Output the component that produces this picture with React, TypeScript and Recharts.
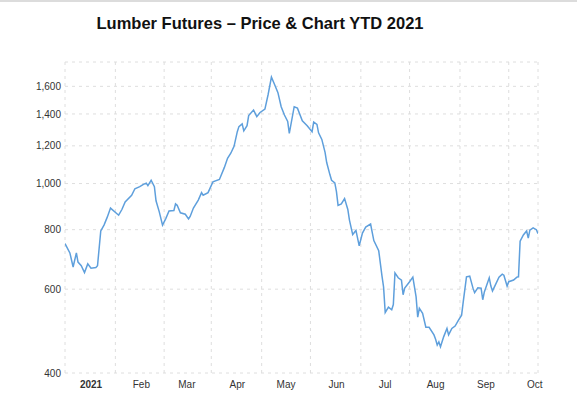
import React from 'react';
import { LineChart, Line, XAxis, YAxis, CartesianGrid } from 'recharts';

// day 0 = Jan 1 2021
const days = [
  -16, -13, -11, -9, -8, -6, -4, -2, 0, 3,
  4, 6, 8, 10, 12, 17, 19, 21, 25, 27,
  30, 32, 34, 35, 37, 39, 40, 42, 44, 46,
  48, 51, 52, 53, 55, 58, 60, 61, 63, 66,
  68, 69, 72, 75, 79, 82, 84, 86, 88, 90,
  91, 93, 94, 96, 97, 100, 102, 104, 107, 109,
  111, 113, 115, 117, 119, 121, 122, 125, 127, 130,
  133, 136, 137, 139, 140, 142, 144, 145, 147, 148,
  150, 151, 152, 154, 156, 158, 159, 161, 162, 163,
  165, 167, 169, 172, 174, 177, 179, 180, 181, 183,
  185, 186, 187, 189, 191, 192, 193, 196, 198, 200,
  201, 202, 204, 206, 208, 211, 212, 213, 214, 215,
  217, 219, 220, 222, 224, 226, 228, 229, 231, 233,
  235, 236, 238, 240, 241, 242, 245, 246, 247, 249,
  251, 253, 254, 256, 257, 260, 262, 263, 264, 266,
  268, 269, 270, 272, 274, 275,
];

const prices = [
  748, 715, 668, 715, 684, 672, 650, 678, 664, 666,
  672, 795, 818, 850, 888, 858, 882, 915, 945, 975,
  985, 995, 1002, 990, 1016, 985, 920, 872, 818, 844,
  876, 878, 906, 900, 868, 862, 843, 853, 888, 923,
  957, 945, 957, 1008, 1020, 1080, 1130, 1158, 1197, 1285,
  1317, 1334, 1290, 1323, 1389, 1427, 1382, 1410, 1433, 1540,
  1673, 1612, 1552, 1450, 1393, 1350, 1275, 1450, 1440, 1355,
  1323, 1285, 1346, 1331, 1278, 1238, 1163, 1107, 1043, 1016,
  1003, 962, 900, 906, 930, 882, 838, 781, 789, 797,
  740, 787, 810, 822, 759, 723, 640, 606, 536, 550,
  543, 557, 649, 634, 627, 584, 603, 622, 636, 578,
  524, 547, 534, 499, 499, 481, 471, 458, 465, 454,
  477, 496, 481, 496, 502, 516, 529, 564, 637, 639,
  603, 590, 604, 603, 570, 592, 634, 609, 595, 615,
  636, 645, 642, 609, 622, 627, 636, 637, 757, 780,
  795, 768, 798, 807, 800, 785,
];

const monthDays = [0, 31, 59, 90, 120, 151, 181, 212, 243, 273];
const monthLabels = ['2021', 'Feb', 'Mar', 'Apr', 'May', 'Jun', 'Jul', 'Aug', 'Sep', 'Oct'];
const gridDays = [-16, 15, 45, 74, 105, 135, 166, 196, 227, 257];
const priceTicks = [400, 600, 800, 1000, 1200, 1400, 1600];

const data = days.map((d, i) => ({ day: d, price: prices[i] }));

const FONT = '"Liberation Sans", Arial, sans-serif';

const MonthTick = (props: any) => {
  const { x, y, payload } = props;
  const label = monthLabels[monthDays.indexOf(payload.value)];
  return (
    <text
      x={x}
      y={y}
      dy="0.71em"
      textAnchor="middle"
      fontSize={10}
      fontFamily={FONT}
      fontWeight={label === '2021' ? 700 : 400}
      fill="#333"
    >
      {label}
    </text>
  );
};

export default function App() {
  return (
    <div style={{ position: 'absolute', left: 0, top: 0, width: 577, height: 399, background: '#fff' }}>
      <div style={{ position: 'absolute', left: 0, top: 0, width: 577, height: 2, background: '#dcdcdc' }} />
      <div
        style={{
          position: 'absolute',
          left: 0,
          top: 13,
          width: 520,
          textAlign: 'center',
          fontFamily: FONT,
          fontWeight: 700,
          fontSize: 16.5,
          lineHeight: '20px',
          color: '#111',
        }}
      >
        Lumber Futures – Price &amp; Chart YTD 2021
      </div>
      <LineChart
        width={577}
        height={399}
        data={data}
        margin={{ top: 62, right: 39, left: 0, bottom: 0 }}
      >
        <XAxis xAxisId="grid" dataKey="day" type="number" domain={[-16, 275]} ticks={gridDays} hide allowDataOverflow />
        <CartesianGrid xAxisId="grid" strokeDasharray="3 4" stroke="#dedede" />
        <XAxis
          dataKey="day"
          type="number"
          domain={[-16, 275]}
          ticks={monthDays}
          interval={0}
          height={26}
          axisLine={false}
          tickLine={false}
          tick={<MonthTick />}
          allowDataOverflow
        />
        <YAxis
          scale="log"
          type="number"
          domain={[400, 1800]}
          ticks={priceTicks}
          interval={0}
          width={65}
          axisLine={false}
          tickLine={false}
          tickSize={2}
          tickMargin={2}
          tick={{ fontSize: 10, fill: '#333', fontFamily: FONT }}
          tickFormatter={(v: number) => v.toLocaleString('en-US')}
          allowDataOverflow
        />
        <Line
          type="linear"
          dataKey="price"
          stroke="#5e9fdc"
          strokeWidth={1.5}
          dot={false}
          isAnimationActive={false}
        />
      </LineChart>
    </div>
  );
}
